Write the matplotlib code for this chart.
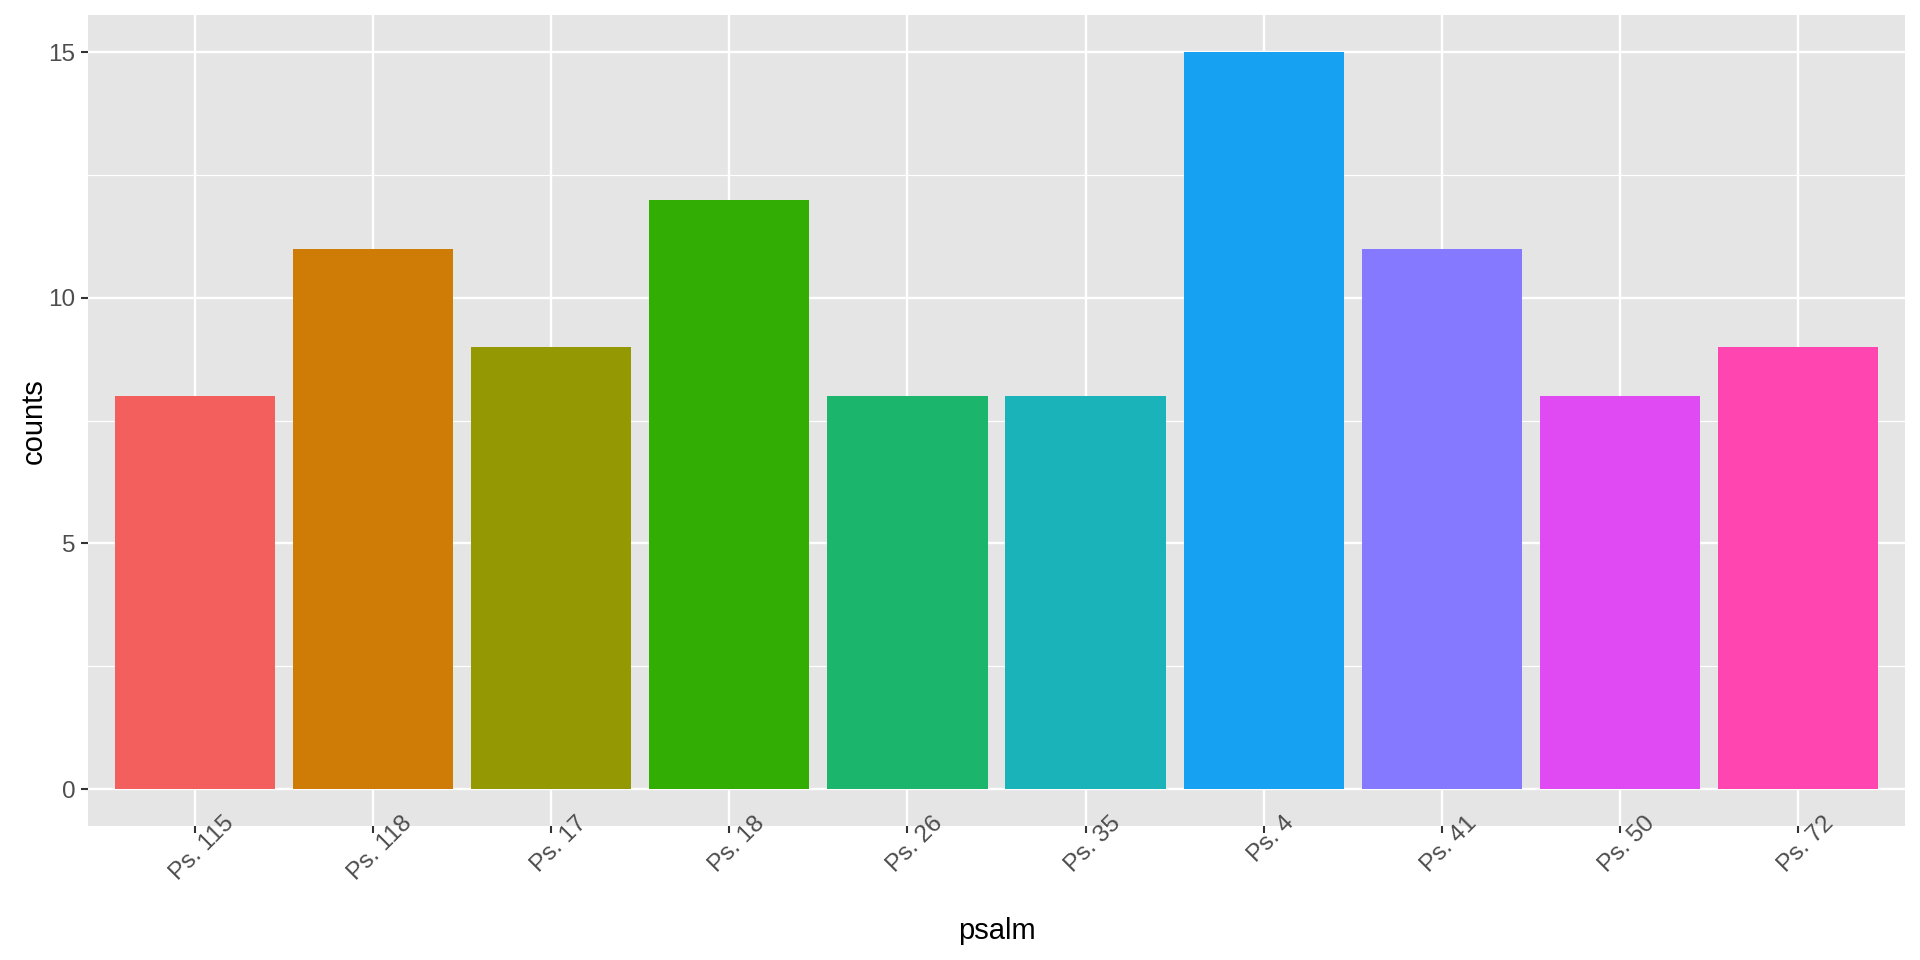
import numpy as np
import matplotlib
matplotlib.use("Agg")
import matplotlib.pyplot as plt
import matplotlib.transforms as mtrans
from matplotlib.ticker import MultipleLocator

plt.rcParams['font.family'] = ['Liberation Sans', 'DejaVu Sans']

psalms = ['Ps. 115', 'Ps. 118', 'Ps. 17', 'Ps. 18', 'Ps. 26',
          'Ps. 35', 'Ps. 4', 'Ps. 41', 'Ps. 50', 'Ps. 72']
counts = [8, 11, 9, 12, 8, 8, 15, 11, 8, 9]
colors = ['#F35F5D', '#CF7C07', '#939803', '#31AD03', '#1BB56B',
          '#19B3B9', '#16A1F3', '#8479FF', '#E04AF2', '#FF45B0']

fig = plt.figure(figsize=(19.2, 9.6), dpi=100)
ax = fig.add_axes([0.0458, 0.1396, 0.9464, 0.8444])
ax.set_facecolor('#E5E5E5')

x = np.arange(1, len(psalms) + 1)
ax.bar(x, counts, width=0.9, color=colors, zorder=3)

ax.set_xlim(0.4, len(psalms) + 0.6)
ax.set_ylim(-0.75, 15.75)
ax.set_xticks(x)
ax.set_xticklabels([])
# rotated labels drawn by hand: ggplot sets them a bit right of the tick
# and lets their top corner run up past the tick end
shift = mtrans.ScaledTranslation(0.075, 0.14, fig.dpi_scale_trans)
for xi, name in zip(x, psalms):
    ax.text(xi, 0, name, transform=ax.get_xaxis_transform() + shift,
            rotation=45, ha='center', va='top', fontsize=17.5,
            color='#4D4D4D', clip_on=False)

ax.yaxis.set_major_locator(MultipleLocator(5))
ax.yaxis.set_minor_locator(MultipleLocator(2.5))
ax.tick_params(axis='y', which='major', labelsize=17.5, labelcolor='#4D4D4D',
               length=5, width=1.5, color='#333333', pad=4)
ax.tick_params(axis='x', which='major', length=5, width=1.5,
               color='#333333')
ax.tick_params(which='minor', length=0)

ax.grid(which='major', color='white', linewidth=1.7, zorder=1)
ax.grid(which='minor', axis='y', color='white', linewidth=0.85, zorder=1)
for s in ax.spines.values():
    s.set_visible(False)

ax.set_xlabel('psalm', fontsize=21, va='center')
ax.set_ylabel('counts', fontsize=21, va='center')
ax.xaxis.set_label_coords(0.5, -0.1295)
ax.yaxis.set_label_coords(-0.0297, 0.5)

fig.savefig('out.png', dpi=100, facecolor='white')
